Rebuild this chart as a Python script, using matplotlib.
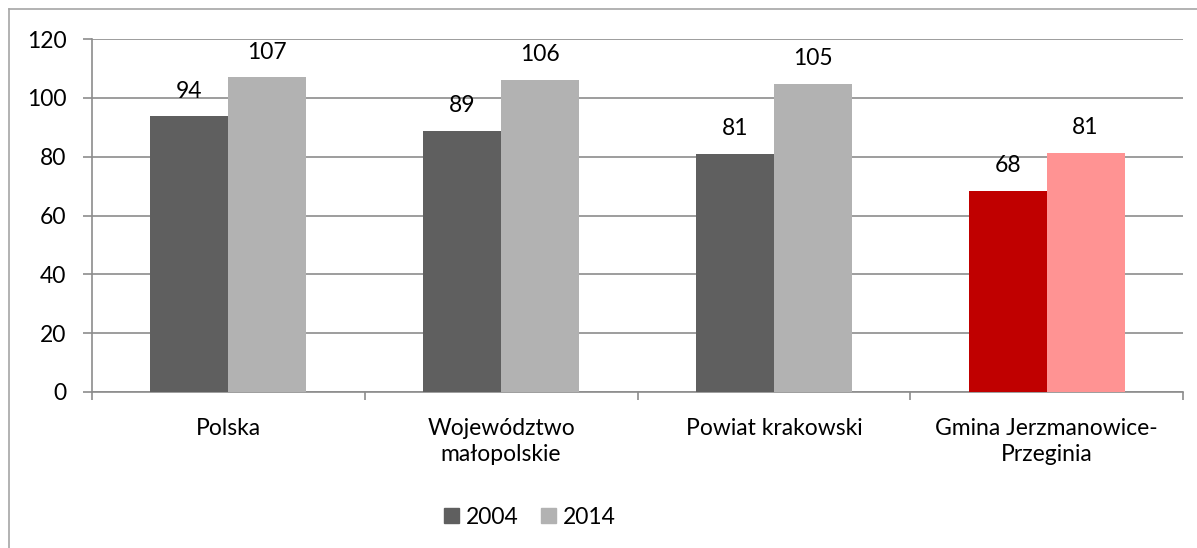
import matplotlib.pyplot as plt
from matplotlib.lines import Line2D
from matplotlib.patches import Patch
import numpy as np

plt.rcParams['font.family'] = ['Lato', 'DejaVu Sans']

categories = ["Polska", "Województwo\nmałopolskie", "Powiat krakowski", "Gmina Jerzmanowice-\nPrzeginia"]
years = ["2004", "2014"]
values_2004 = [93.7, 88.7, 80.9, 68.4]
values_2014 = [107.0, 106.0, 104.7, 81.3]
labels_2004 = ["94", "89", "81", "68"]
labels_2014 = ["107", "106", "105", "81"]

colors_2004 = ["#5f5f5f", "#5f5f5f", "#5f5f5f", "#c00000"]
colors_2014 = ["#b2b2b2", "#b2b2b2", "#b2b2b2", "#ff9393"]

fs = 16.5

fig = plt.figure(figsize=(11.97, 5.48), dpi=100)
ax = fig.add_axes([92/1197, 1-392/548, (1183-92)/1197, (392-39)/548])

x = np.arange(len(categories))
w = 1/3.5
b1 = ax.bar(x - w/2, values_2004, w, color=colors_2004, zorder=3)
b2 = ax.bar(x + w/2, values_2014, w, color=colors_2014, zorder=3)

for bars, labs in [(b1, labels_2004), (b2, labels_2014)]:
    for bar, lab in zip(bars, labs):
        ax.text(bar.get_x() + bar.get_width()/2, bar.get_height() + 5, lab,
                ha='center', va='bottom', fontsize=fs, color='black')

ax.set_xlim(-0.5, len(categories) - 0.5)
ax.set_ylim(0, 120)
ax.set_yticks(range(0, 121, 20))
ax.yaxis.grid(True, color='#8c8c8c', linewidth=1.2, zorder=0)
ax.set_axisbelow(True)

for s in ['top', 'right']:
    ax.spines[s].set_visible(False)
ax.spines['left'].set_color('#8c8c8c')
ax.spines['bottom'].set_color('#8c8c8c')
ax.spines['left'].set_linewidth(1.2)
ax.spines['bottom'].set_linewidth(1.2)

ax.set_xticks(np.arange(-0.5, len(categories), 1.0))
ax.set_xticklabels([])
ax.set_xticks(x, minor=True)
ax.set_xticklabels(categories, minor=True, fontsize=fs, linespacing=1.25)
ax.tick_params(axis='x', which='major', length=6, color='#8c8c8c', width=1.2)
ax.tick_params(axis='x', which='minor', length=0, pad=19)
ax.tick_params(axis='y', length=6.5, color='#8c8c8c', width=1.2, labelsize=fs, pad=12)

handles = [Patch(color="#5f5f5f", label=years[0]), Patch(color="#b2b2b2", label=years[1])]
fig.legend(handles=handles, loc='center', bbox_to_anchor=(530/1197, 1-517/548), ncol=2,
           frameon=False, fontsize=fs, handlelength=0.65, handleheight=0.65,
           handletextpad=0.3, columnspacing=1.0)

# chart frame (extends past the picture on right and bottom)
fig.add_artist(Line2D([9/1197, 1.0], [1-9/548, 1-9/548], color='#a6a6a6', linewidth=1.2))
fig.add_artist(Line2D([9/1197, 9/1197], [0.0, 1-9/548], color='#a6a6a6', linewidth=1.2))

fig.savefig("out.png", dpi=100)
